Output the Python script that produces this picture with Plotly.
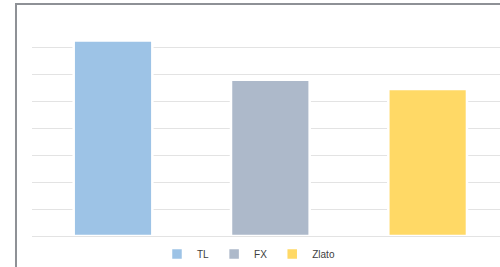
import plotly.graph_objects as go

categories = ["TL", "FX", "Zlato"]
values = [7.27, 5.81, 5.47]
colors = ["#9DC3E6", "#ADB9CA", "#FFD966"]

fig = go.Figure()
for i, (cat, val, col) in enumerate(zip(categories, values, colors)):
    fig.add_trace(go.Bar(
        x=[i], y=[val], name=cat, width=0.5,
        marker=dict(color=col, line=dict(color="white", width=2.5)),
        hoverinfo="skip",
    ))

fig.update_layout(
    width=500, height=267,
    margin=dict(l=32, r=0, t=21, b=31, pad=0),
    paper_bgcolor="white", plot_bgcolor="white",
    showlegend=True,
    legend=dict(orientation="h", xref="container", yref="container",
                x=0.497, xanchor="center", y=0.049, yanchor="middle",
                font=dict(family="Liberation Sans, Arial", size=10, color="#404040"),
                itemwidth=30, tracegroupgap=0),
    xaxis=dict(range=[-0.515, 2.46], showticklabels=False, showgrid=False,
               zeroline=False, showline=False, ticks=""),
    yaxis=dict(range=[0, 8], dtick=1, showticklabels=False, showgrid=True,
               gridcolor="#E3E3E3", gridwidth=1, zeroline=True,
               zerolinecolor="#E3E3E3", zerolinewidth=1, showline=False, ticks=""),
    bargap=0,
    shapes=[dict(type="rect", xref="paper", yref="paper",
                 x0=-0.0342, x1=1.2, y0=-0.5, y1=1.079,
                 line=dict(color="#8E9196", width=2), layer="above")],
)

fig.write_html("out.html", config={"displayModeBar": False, "staticPlot": True},
               post_script="document.body.style.margin='0';document.body.style.overflow='hidden';")
